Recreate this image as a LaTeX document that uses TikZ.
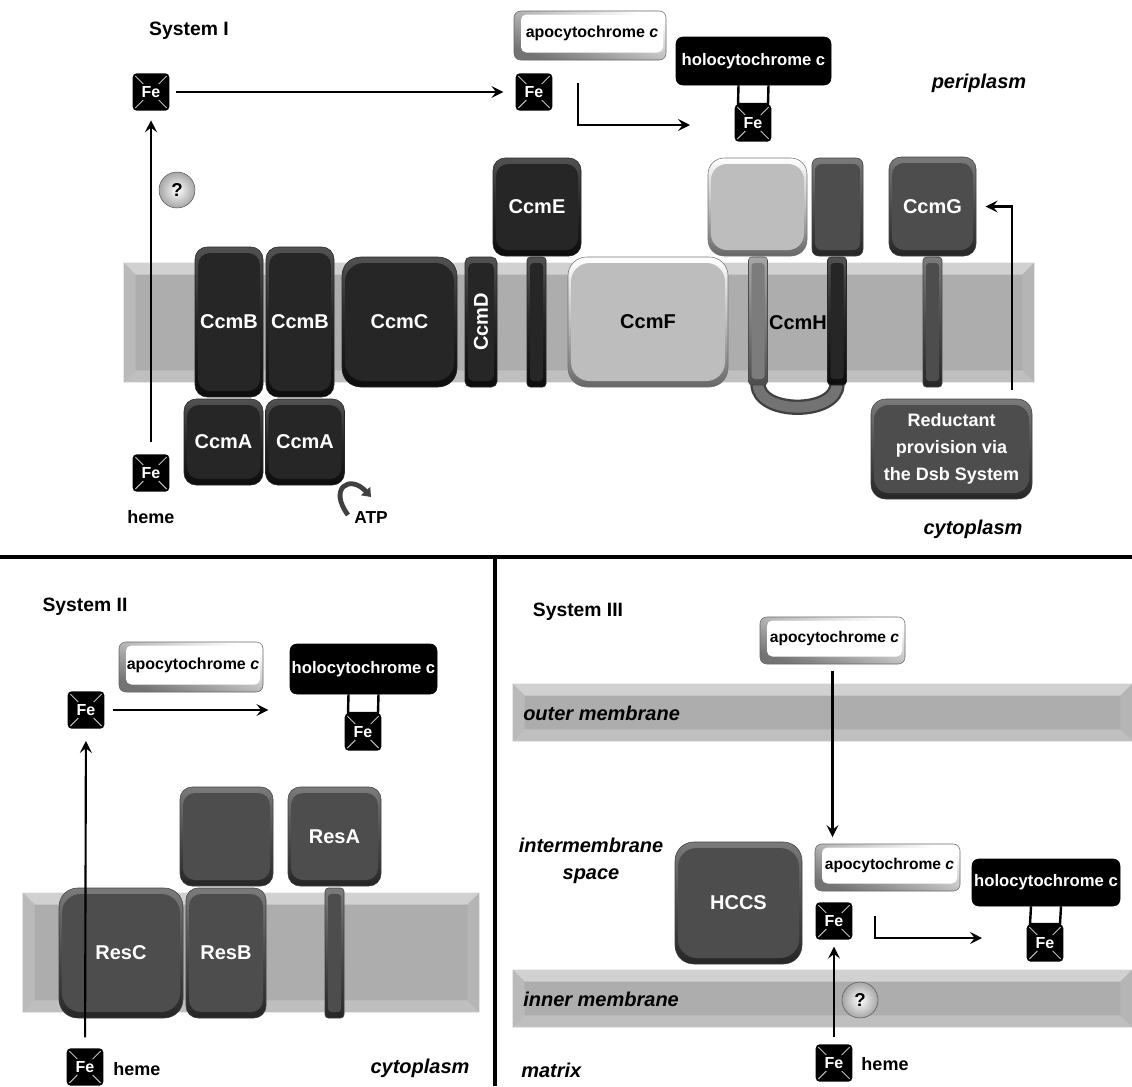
\documentclass[tikz,border=0pt]{standalone}
\usepackage{fontspec}
\setmainfont{Liberation Sans}
\usepackage{xcolor}
\definecolor{darkc}{HTML}{262626}
\definecolor{midc}{HTML}{4D4D4D}
\definecolor{greyc}{HTML}{7C7C7C}
\definecolor{lightc}{HTML}{BDBDBD}
\definecolor{memc}{HTML}{ADADAD}
\usetikzlibrary{arrows.meta,calc,shapes.misc}
\tikzset{
  >={Stealth[length=9pt,width=9pt,inset=3.5pt]},
  protd/.style={draw=black!85,top color=black!68,bottom color=black!95,middle color=darkc},
  protdin/.style={fill=darkc,text=white},
  protm/.style={draw=black!75,top color=black!52,bottom color=black!85,middle color=midc},
  protmin/.style={fill=midc,text=white},
  protg/.style={draw=black!70,top color=black!35,bottom color=black!70,middle color=greyc},
  protgin/.style={fill=greyc,text=white},
  protl/.style={draw=black!55,top color=white,bottom color=black!60,middle color=lightc},
  protlin/.style={fill=lightc,text=black},
  apo/.style={draw=black!60,top color=white,bottom color=black!55,shading angle=-20},
  apoin/.style={fill=white,text=black},
  plab/.style={font=\fontsize{15}{18}\selectfont\bfseries,inner sep=0pt,align=center},
  holobox/.style={fill=black,draw=black,rounded corners=5pt,inner sep=0pt,text=white,font=\fontsize{12.5}{14}\selectfont\bfseries},
  fenode/.style={fill=black,rounded corners=3pt,minimum width=27.5pt,minimum height=28pt,inner sep=0pt,text=white,font=\fontsize{12}{14}\selectfont\bfseries},
  fex/.style={draw=white!75!black,line width=0.7pt},
  link/.style={draw=black,line width=1.8pt},
  arr/.style={->,draw=black,line width=1.6pt},
  title/.style={font=\fontsize{14.5}{16}\selectfont\bfseries,inner sep=0pt},
  place/.style={font=\fontsize{15}{20}\selectfont\bfseries\itshape,inner sep=0pt,align=center},
  hemelab/.style={font=\fontsize{13.5}{16}\selectfont\bfseries,inner sep=0pt},
  qball/.style={circle,draw=black!65,inner color=white,outer color=black!35,minimum size=27pt,inner sep=0pt,font=\fontsize{14}{16}\selectfont\bfseries},
  memb/.style={fill=memc,inner sep=0pt},
  divider/.style={draw=black,line width=2.4pt},
}
\newcommand{\prot}[7][rounded corners=9pt]{%
  \node[#2,rounded corners=9pt,#1,minimum width=#5*0.75pt,minimum height=#6*0.75pt,inner sep=0pt] (#3) at (#4) {};
  \node[#2in,plab,rounded corners=9pt,#1,minimum width=(#5-6)*0.75pt,minimum height=(#6-12)*0.75pt] (#3in) at (#3) {#7};}
\newcommand{\stem}[4][protd]{\prot[rounded corners=2.5pt]{#1}{#2}{#3}{19}{#4}{}}
\newcommand{\fe}[2]{\node[fenode] (#1) at (#2) {Fe};
  \draw[fex] ($(#1.north west)+(3,3)$) -- +(8,8);
  \draw[fex] ($(#1.north east)+(-3,3)$) -- +(-8,8);
  \draw[fex] ($(#1.south west)+(3,-3)$) -- +(8,-8);
  \draw[fex] ($(#1.south east)+(-3,-3)$) -- +(-8,-8);}
\newcommand{\apoc}[5][12]{\node[apo,rounded corners=5pt,minimum width=#4*0.75pt,minimum height=#5*0.75pt,inner sep=0pt] (#2) at (#3) {};
  \node[apoin,rounded corners=4pt,inner sep=0pt,minimum width=(#4-10)*0.75pt,minimum height=(#5-11)*0.75pt,font=\fontsize{#1}{14}\selectfont\bfseries] (#2in) at ($(#2)+(2,-2)$) {apocytochrome \textit{c}};}
\newcommand{\holo}[6]{\node[holobox,minimum width=#3*0.75pt,minimum height=#4*0.75pt] (#1) at (#2) {holocytochrome c};
  \fe{#5}{#6}
  \draw[link] ($(#1.south)+(-15,0)$) -- ($(#5.north)+(-15,0)$) -- ($(#5.north)+(15,0)$) -- ($(#1.south)+(15,0)$);}
\newcommand{\band}[4]{\node[memb,minimum width=#3*0.75pt,minimum height=#4*0.75pt] (#1) at (#2) {};
  \fill[black!18] (#1.north west) -- (#1.north east) -- ($(#1.north east)+(-12,12)$) -- ($(#1.north west)+(12,12)$) -- cycle;
  \fill[black!27] (#1.north west) -- ($(#1.north west)+(12,12)$) -- ($(#1.south west)+(12,-12)$) -- (#1.south west) -- cycle;
  \fill[black!29] (#1.north east) -- ($(#1.north east)+(-12,12)$) -- ($(#1.south east)+(-12,-12)$) -- (#1.south east) -- cycle;
  \fill[black!25] (#1.south west) -- ($(#1.south west)+(12,-12)$) -- ($(#1.south east)+(-12,-12)$) -- (#1.south east) -- cycle;}

\begin{document}
\begin{tikzpicture}[x=0.75pt,y=-0.75pt]
  \useasboundingbox (0,0) rectangle (1132,1086);
  % system I
  \node[title] (tone) at (189,31) {System I};
  \node[place] (peri) at (979,83) {periplasm};
  \node[place] (cytoa) at (973,529) {cytoplasm};
  \band{mema}{579,322.5}{910}{119}
  \fe{fea}{151,92}
  \fe{feb}{534,92}
  \fe{fec}{151,473}
  \node[hemelab] (hemea) at (151,517) {heme};
  \draw[arr,shorten <=5pt,shorten >=9pt] (fea) -- (feb);
  \draw[arr,shorten <=9pt,shorten >=7pt] (fec) -- (fea);
  \node[qball] (qa) at (177,190) {?};
  \apoc{apoa}{590,35.5}{152}{49}
  \holo{holoa}{753.5,61}{155}{48}{fed}{753,123}
  \coordinate (la) at (578,83);
  \coordinate (lb) at (690,125);
  \draw[arr] (la) |- (lb);
  \prot{protd}{ccmba}{229,322}{68}{150}{CcmB}
  \prot{protd}{ccmbb}{300,322}{68}{150}{CcmB}
  \prot[rounded corners=14pt]{protd}{ccmc}{399.5,322}{115}{130}{CcmC}
  \prot[rounded corners=4pt]{protd}{ccmd}{481,322}{32}{130}{\rotatebox{90}{CcmD}}
  \prot{protd}{ccme}{537,207}{88}{98}{CcmE}
  \stem{stema}{536.5,322}{130}
  \prot[rounded corners=14pt]{protl}{ccmf}{648,322}{160}{130}{CcmF}
  \prot[rounded corners=12pt]{protl}{toph}{757.5,207}{99}{98}{}
  \prot[rounded corners=5pt]{protm}{topi}{837.5,207}{51}{98}{}
  \coordinate (ul) at (758,384);
  \coordinate (ur) at (837,384);
  \draw[line width=11.5pt,draw=black!75] (ul) .. controls (758,415) and (837,415) .. (ur);
  \draw[line width=8pt,draw=black!55] (ul) .. controls (758,415) and (837,415) .. (ur);
  \stem[protg]{stemb}{758,321}{128}
  \stem{stemc}{837,321}{128}
  \node[plab,text=black] (ccmh) at (798,323) {CcmH};
  \prot{protm}{ccmg}{932.5,206.5}{87}{99}{CcmG}
  \stem[protm]{stemd}{932.5,322}{130}
  \prot{protd}{ccmaa}{223.5,442}{79}{86}{CcmA}
  \prot{protd}{ccmab}{305,442}{79}{86}{CcmA}
  \prot[rounded corners=11pt,font=\fontsize{13.5}{20}\selectfont\bfseries]{protm}{redu}{951.5,449}{161}{100}{Reductant\\provision via\\the Dsb System}
  \coordinate (ra) at (1012,390);
  \draw[arr,shorten >=7pt] (ra) |- (ccmg.east);
  \node[hemelab,font=\fontsize{13}{16}\selectfont\bfseries] (atp) at (371,518) {ATP};
  \coordinate (atpa) at (348,515);
  \coordinate (atpb) at (371,497);
  \draw[-{Triangle[length=6pt,width=9pt]},draw=black!75,line width=3.6pt] (atpa) .. controls (328,488) and (350,474) .. (atpb);
  % dividers
  \coordinate (da) at (0,557);
  \coordinate (db) at (1132,557);
  \coordinate (dc) at (495,557);
  \coordinate (dd) at (495,1086);
  \draw[divider] (da) -- (db);
  \draw[divider] (dc) -- (dd);
  % system II
  \node[title] (ttwo) at (85,607) {System II};
  \band{memb2}{251,952.5}{456}{119}
  \apoc{apob}{191,667}{144}{50}
  \holo{holob}{363.5,669}{147}{50}{fef}{363,732}
  \fe{fee}{86,710}
  \fe{feg}{85,1067}
  \draw[arr,shorten <=6pt,shorten >=16pt] (fee) -- (holob.south west |- fee);
  \prot[rounded corners=14pt]{protm}{resc}{121,953}{124}{130}{ResC}
  \prot{protm}{resb}{226,953}{80}{130}{ResB}
  \prot{protm}{topr}{226.5,836.5}{93}{99}{}
  \prot{protm}{resa}{334.5,836.5}{93}{99}{ResA}
  \stem[protm]{steme}{334.5,953}{130}
  \draw[arr,shorten <=8pt,shorten >=9pt] (feg) -- (fee);
  \node[hemelab] (hemeb) at (137,1069) {heme};
  \node[place] (cytob) at (420,1068) {cytoplasm};
  % system III
  \node[title] (tthree) at (578,612) {System III};
  \band{memo}{822.5,712.5}{619}{57}
  \band{memi}{822.5,998.5}{619}{57}
  \node[place,anchor=west] (outer) at (523,713) {outer membrane};
  \node[place,anchor=west] (inner) at (523,999) {inner membrane};
  \node[place] (inter) at (591,861) {intermembrane\\space};
  \node[place,anchor=west] (matrix) at (521,1070) {matrix};
  \apoc[11.7]{apoc}{832.5,640.5}{145}{47}
  \apoc[11.7]{apod}{887.5,867.5}{145}{47}
  \holo{holoc}{1046,882.5}{148}{47}{fei}{1045,943}
  \draw[arr,shorten <=5pt,shorten >=5pt] (apoc) -- (apoc |- apod.north);
  \prot[rounded corners=14pt]{protm}{hccs}{738.5,903}{127}{122}{HCCS}
  \fe{feh}{834,921}
  \fe{fej}{834,1063}
  \draw[arr,shorten <=5pt,shorten >=5pt] (fej) -- (feh);
  \coordinate (lc) at (875,916);
  \coordinate (ld) at (982,938);
  \draw[arr] (lc) |- (ld);
  \node[qball] (qb) at (860,1000) {?};
  \node[hemelab] (hemec) at (885,1064) {heme};
\end{tikzpicture}
\end{document}
